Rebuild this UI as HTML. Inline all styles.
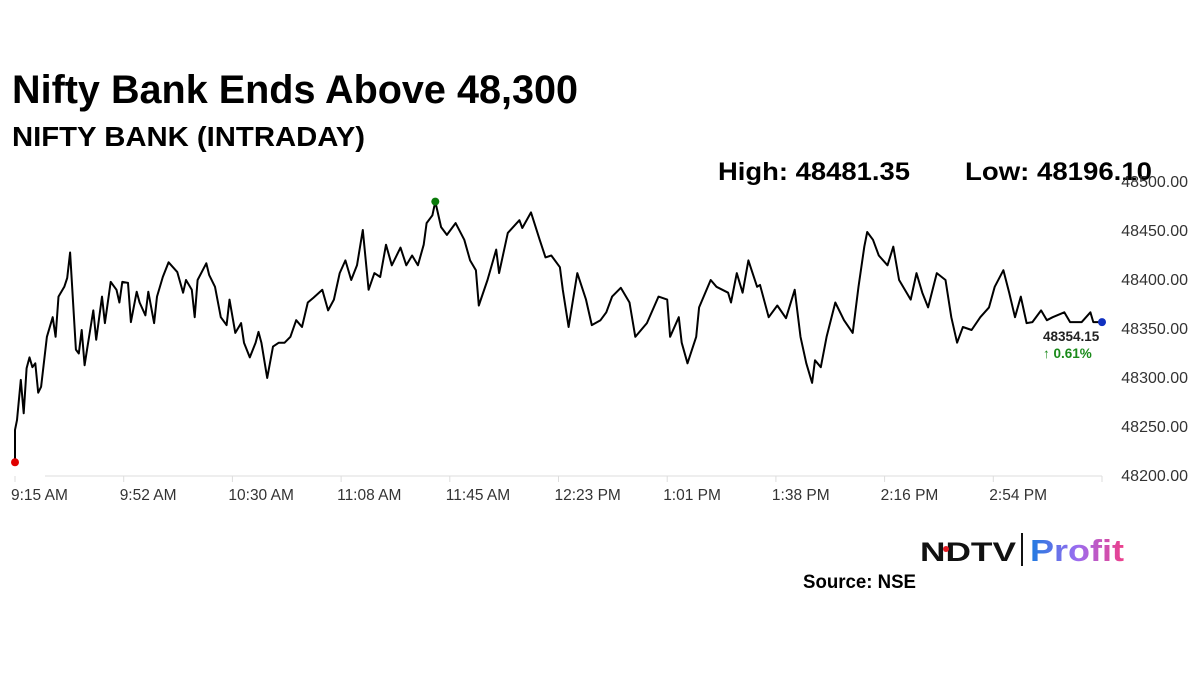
<!DOCTYPE html>
<html><head><meta charset="utf-8"><style>
body{margin:0;background:#fff;}
svg{display:block;font-family:"Liberation Sans",Arial,sans-serif;}
</style></head><body>
<svg id="chart" width="1200" height="675" viewBox="0 0 1200 675">
<rect width="1200" height="675" fill="#fff"/>
<text x="12" y="103" font-size="40" font-weight="bold" textLength="566" lengthAdjust="spacingAndGlyphs">Nifty Bank Ends Above 48,300</text>
<text x="12" y="146" font-size="28" font-weight="bold" textLength="353" lengthAdjust="spacingAndGlyphs">NIFTY BANK (INTRADAY)</text>
<text x="718" y="180" font-size="25" font-weight="bold" textLength="192" lengthAdjust="spacingAndGlyphs">High: 48481.35</text>
<text x="965" y="180" font-size="25" font-weight="bold" textLength="187" lengthAdjust="spacingAndGlyphs">Low: 48196.10</text>
<line x1="45" y1="476" x2="1102" y2="476" stroke="#ddd" stroke-width="1"/>
<g id="yaxis"></g><g id="xaxis"></g>
<path id="line" fill="none" stroke="#000" stroke-width="2" stroke-linejoin="round"/>
<g id="dots"></g>
<text x="1043" y="341" font-size="13.5" font-weight="bold" fill="#222">48354.15</text>
<text x="1043" y="358" font-size="13.5" font-weight="bold" fill="#1a8a1a">↑ 0.61%</text>
<g>
<text x="920" y="561" font-size="27" font-weight="900" fill="#111" textLength="96" lengthAdjust="spacingAndGlyphs">NDTV</text>
<circle cx="946" cy="549" r="3" fill="#e31b23"/>
<line x1="1022" y1="533" x2="1022" y2="566" stroke="#111" stroke-width="2"/>
<defs><linearGradient id="pg" x1="0" x2="1"><stop offset="0" stop-color="#1e7be0"/><stop offset="0.5" stop-color="#9b6cf0"/><stop offset="1" stop-color="#ee3f8a"/></linearGradient></defs>
<text x="1030" y="561" font-size="31" font-weight="bold" fill="url(#pg)" textLength="94" lengthAdjust="spacingAndGlyphs">Profit</text>
</g>
<text x="803" y="588" font-size="19" font-weight="bold" textLength="113" lengthAdjust="spacingAndGlyphs">Source: NSE</text>
</svg>
<script>
const minutes=[0,0,0.7,2,3,4,5,6,7,8,9,11,13,14,15,17,18,19,21,22,23,24,25,27,28,30,31,33,35,36,37,39,40,42,43,45,46,48,49,51,53,56,58,59,61,62,63,66,67,69,71,73,74,76,78,79,81,83,84,85,87,89,91,93,95,97,99,101,103,106,108,110,112,114,116,118,120,122,124,126,128,130,133,135,137,139,141,142,144,145,147,149,152,155,157,159,160,163,166,167,170,174,175,178,181,183,185,188,189,191,194,197,199,202,204,206,209,212,214,218,222,225,226,229,230,232,235,236,240,242,246,247,249,251,253,256,257,260,263,266,269,271,273,275,276,278,280,283,286,289,291,293,294,296,298,301,303,305,309,311,313,315,318,321,323,325,327,330,333,336,338,341,343,345,347,349,351,354,356,358,362,364,368,371,372,375];
const prices=[48213,48246,48256,48297,48263,48309,48320,48310,48314,48284,48290,48341,48361,48341,48382,48392,48401,48427,48328,48324,48348,48312,48331,48368,48338,48382,48355,48397,48389,48376,48397,48396,48356,48387,48376,48363,48387,48355,48382,48402,48417,48407,48386,48399,48389,48361,48399,48416,48404,48392,48361,48353,48379,48345,48355,48335,48320,48335,48346,48335,48299,48331,48335,48335,48341,48358,48351,48376,48381,48389,48368,48379,48406,48419,48399,48414,48450,48389,48406,48402,48435,48414,48432,48414,48424,48414,48435,48457,48465,48479,48453,48445,48457,48440,48419,48409,48373,48399,48430,48406,48447,48460,48452,48468,48440,48422,48424,48412,48389,48351,48406,48379,48353,48358,48366,48382,48391,48376,48341,48355,48382,48379,48341,48361,48335,48314,48341,48371,48399,48392,48386,48376,48406,48386,48419,48392,48394,48361,48373,48360,48389,48341,48314,48294,48317,48310,48341,48376,48358,48345,48392,48433,48448,48440,48424,48414,48433,48399,48379,48406,48386,48371,48406,48399,48361,48335,48351,48348,48361,48371,48392,48409,48386,48361,48382,48355,48356,48368,48358,48361,48366,48356,48356,48366,48356,48356];
const yTicks=[48200,48250,48300,48350,48400,48450,48500];
const xTickLabels=["9:15 AM","9:52 AM","10:30 AM","11:08 AM","11:45 AM","12:23 PM","1:01 PM","1:38 PM","2:16 PM","2:54 PM",""];
const NS="http://www.w3.org/2000/svg";
const xScale=m=>15+m*(1087/375);
const yScale=v=>475-(v-48200)*0.98;
const ya=document.getElementById('yaxis');
yTicks.forEach(v=>{const t=document.createElementNS(NS,'text');


t.setAttribute('x',1188);t.setAttribute('y',yScale(v)+6);t.setAttribute('text-anchor','end');t.setAttribute('font-size','16');t.setAttribute('fill','#333');t.textContent=v.toFixed(2);ya.appendChild(t);});
const xa=document.getElementById('xaxis');
xTickLabels.forEach((s,i)=>{const x=xScale(i*37.5);
const l=document.createElementNS(NS,'line');


l.setAttribute('x1',x);l.setAttribute('x2',x);l.setAttribute('y1',476);l.setAttribute('y2',482);l.setAttribute('stroke','#ddd');xa.appendChild(l);
const t=document.createElementNS(NS,'text');


t.setAttribute('x',x-4);t.setAttribute('y',500);t.setAttribute('font-size','15.5');t.setAttribute('fill','#333');t.textContent=s;xa.appendChild(t);});
document.getElementById('line').setAttribute('d',minutes.map((m,i)=>(i?'L':'M')+xScale(m).toFixed(1)+','+yScale(prices[i]).toFixed(1)).join(''));
const dots=document.getElementById('dots');
let hi=0,lo=0;prices.forEach((p,i)=>{if(p>prices[hi])hi=i;if(p<prices[lo])lo=i;});
[[lo,'#e00000','low-marker'],[hi,'#0a7a0a','high-marker'],[prices.length-1,'#1030c0','last-marker']].forEach(([i,c,n])=>{const d=document.createElementNS(NS,'circle');


d.setAttribute('cx',xScale(minutes[i]));d.setAttribute('cy',yScale(prices[i]));d.setAttribute('r',4);d.setAttribute('fill',c);dots.appendChild(d);});
</script>
</body></html>
